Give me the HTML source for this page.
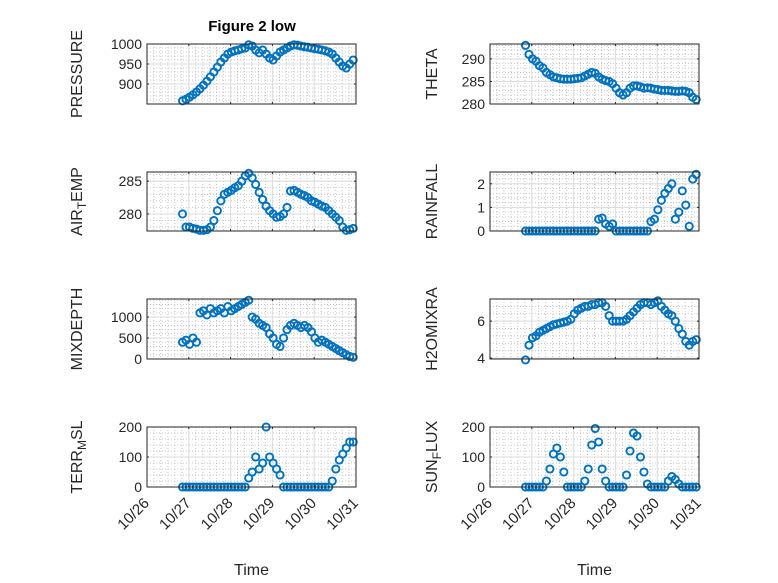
<!DOCTYPE html>
<html><head><meta charset="utf-8"><style>
body{margin:0;background:#fff;}
svg{display:block;font-family:"Liberation Sans",sans-serif;}
</style></head><body>
<svg id="fig" width="778" height="583" viewBox="0 0 778 583" xmlns="http://www.w3.org/2000/svg">
<rect width="778" height="583" fill="#fff"/>
<text x="252" y="31" text-anchor="middle" font-size="15" font-weight="bold">Figure 2 low</text>
</svg>
<script>
const times = [];
for (let k = 0; k < 50; k++) times.push(0.85 + k / 12);
const dayTicks = ["10/26","10/27","10/28","10/29","10/30","10/31"];
const pressure = [858,862,867,873,880,888,897,907,918,930,942,955,965,975,980,983,985,988,990,998,995,985,978,985,975,965,960,970,980,985,990,995,998,997,995,993,992,990,988,987,985,983,980,975,965,955,945,940,950,960];
const theta = [293,291,290,289.5,288.5,288,287,286.5,286,285.8,285.6,285.5,285.5,285.5,285.6,285.7,285.8,286.2,286.6,287,286.8,286,285.5,285.2,285,284.5,283.5,282.5,282,282.5,283.5,284,284,283.8,283.5,283.6,283.5,283.3,283.2,283,283,283,282.9,282.8,282.8,282.9,282.8,282.5,281.5,281];
const airTemp = [280,278,278,277.8,277.7,277.5,277.5,277.6,278,279,280.5,282,283,283.3,283.6,284,284.3,285,285.8,286.2,285.5,284.5,283.3,282.2,281.2,280.5,280,279.5,279.6,280,281,283.5,283.6,283.3,283,282.8,282.5,282,281.8,281.5,281.2,281,280.5,280,279.5,279,278,277.5,277.6,277.8];
const rainfall = [0,0,0,0,0,0,0,0,0,0,0,0,0,0,0,0,0,0,0,0,0,0.5,0.55,0.3,0.2,0.3,0,0,0,0,0,0,0,0,0,0,0.4,0.5,0.9,1.3,1.6,1.8,2.0,0.5,0.8,1.7,1.1,0.2,2.2,2.4];
const mixDepth = [400,450,350,500,400,1100,1150,1050,1200,1100,1150,1200,1100,1250,1150,1200,1250,1300,1350,1400,1000,950,850,800,750,600,500,350,300,500,700,800,850,800,750,800,750,650,500,400,450,400,350,300,250,200,150,100,60,40];
const h2o = [3.9,4.7,5.1,5.2,5.4,5.5,5.6,5.7,5.8,5.85,5.9,5.95,6.0,6.1,6.4,6.6,6.7,6.8,6.8,6.9,6.9,7.0,7.0,6.8,6.3,6.0,6.0,6.0,6.0,6.1,6.3,6.5,6.7,6.9,7.0,7.0,6.9,7.0,7.1,6.8,6.6,6.4,6.3,6.0,5.6,5.3,4.9,4.7,4.9,5.0];
const terrMsl = [0,0,0,0,0,0,0,0,0,0,0,0,0,0,0,0,0,0,0,30,50,100,60,80,200,100,80,60,40,0,0,0,0,0,0,0,0,0,0,0,0,0,0,20,60,90,110,130,150,150];
const sunFlux = [0,0,0,0,0,0,20,60,110,130,100,50,0,0,0,0,0,20,60,140,195,150,60,20,0,0,0,0,0,40,120,180,170,100,50,10,0,0,0,0,0,20,35,25,10,0,0,0,0,0];
const pressureTicks = [900,950,1000];
const thetaTicks = [280,285,290];
const airTicks = [280,285];
const rainTicks = [0,1,2];
const mixTicks = [0,500,1000];
const h2oTicks = [4,6];
const terrTicks = [0,100,200];
const sunTicks = [0,100,200];

const NS = "http://www.w3.org/2000/svg";
const svg = document.getElementById("fig");
function mk(tag, attrs, parent) {
  const e = document.createElementNS(NS, tag);
  for (const k in attrs) e.setAttribute(k, attrs[k]);
  (parent || svg).appendChild(e);
  return e;
}
const cols = [[147,356],[490,699]];
const rows = [[44,104],[172,231],[299,359],[427,487]];
const panels = [
  {id:"pressure", label:["PRESSURE"], data:pressure, ticks:pressureTicks, ymin:850, ymax:1000, c:0, r:0},
  {id:"theta", label:["THETA"], data:theta, ticks:thetaTicks, ymin:280, ymax:293.3, c:1, r:0},
  {id:"air-temp", label:["AIR","T","EMP"], data:airTemp, ticks:airTicks, ymin:277.4, ymax:286.4, c:0, r:1},
  {id:"rainfall", label:["RAINFALL"], data:rainfall, ticks:rainTicks, ymin:0, ymax:2.5, c:1, r:1},
  {id:"mixdepth", label:["MIXDEPTH"], data:mixDepth, ticks:mixTicks, ymin:0, ymax:1430, c:0, r:2},
  {id:"h2omixra", label:["H2OMIXRA"], data:h2o, ticks:h2oTicks, ymin:3.95, ymax:7.2, c:1, r:2},
  {id:"terr-msl", label:["TERR","M","SL"], data:terrMsl, ticks:terrTicks, ymin:0, ymax:200, c:0, r:3},
  {id:"sun-flux", label:["SUN","F","LUX"], data:sunFlux, ticks:sunTicks, ymin:0, ymax:200, c:1, r:3}
];
panels.forEach(p => {
  const [x0,x1] = cols[p.c], [y0,y1] = rows[p.r];
  const xs = t => x0 + (t / 5) * (x1 - x0);
  const ys = v => y1 - (v - p.ymin) / (p.ymax - p.ymin) * (y1 - y0);
  const g = mk("g", {});
  
  
  for (let i = 0; i <= 30; i++) {
    if (i % 6 === 0) continue;
    const x = xs(i / 6);
    mk("line", {x1:x, x2:x, y1:y0, y2:y1, stroke:"#b8b8b8", "stroke-width":0.8, "stroke-dasharray":"1 2"}, g);
  }
  const step = p.ticks[1] - p.ticks[0];
  for (let v = p.ticks[0] - step * 2; v <= p.ymax; v += step / 5) {
    if (v < p.ymin) continue;
    const y = ys(v);
    mk("line", {x1:x0, x2:x1, y1:y, y2:y, stroke:"#b8b8b8", "stroke-width":0.8, "stroke-dasharray":"1 2"}, g);
  }
  for (let d = 1; d < 5; d++) mk("line", {x1:xs(d), x2:xs(d), y1:y0, y2:y1, stroke:"#dcdcdc", "stroke-width":1}, g);
  p.ticks.forEach(v => { const y = ys(v); mk("line", {x1:x0, x2:x1, y1:y, y2:y, stroke:"#dcdcdc", "stroke-width":1}, g); });
  p.data.forEach((v, i) => {
    const c = mk("circle", {cx:xs(times[i]), cy:ys(v), r:3.6, fill:"none", stroke:"#0072bd", "stroke-width":1.9}, g);
    
    
  });
  mk("rect", {x:x0, y:y0, width:x1-x0, height:y1-y0, fill:"none", stroke:"#262626", "stroke-width":1}, g);
  for (let d = 0; d <= 5; d++) {
    mk("line", {x1:xs(d), x2:xs(d), y1:y1, y2:y1-2, stroke:"#262626"}, g);
    mk("line", {x1:xs(d), x2:xs(d), y1:y0, y2:y0+2, stroke:"#262626"}, g);
  }
  p.ticks.forEach(v => {
    const y = ys(v);
    mk("line", {x1:x0, x2:x0+2, y1:y, y2:y, stroke:"#262626"}, g);
    mk("line", {x1:x1, x2:x1-2, y1:y, y2:y, stroke:"#262626"}, g);
    const t = mk("text", {x:x0-5, y:y+5, "text-anchor":"end", "font-size":14, fill:"#262626"}, g);
    t.textContent = v;
    
    
  });
  const lx = p.c === 0 ? 82 : 437;
  const ly = (y0 + y1) / 2;
  const yl = mk("text", {x:lx, y:ly, "text-anchor":"middle", "font-size":16, fill:"#262626", transform:`rotate(-90 ${lx} ${ly})`}, g);
  
  
  if (p.label.length === 1) yl.textContent = p.label[0];
  else {
    mk("tspan", {}, yl).textContent = p.label[0];
    mk("tspan", {dy:4, "font-size":12}, yl).textContent = p.label[1];
    mk("tspan", {dy:-4}, yl).textContent = p.label[2];
  }
  if (p.r === 3) {
    dayTicks.forEach((lab, d) => {
      const tx = xs(d) + 3, ty = y1 + 17;
      const t = mk("text", {x:tx, y:ty, "text-anchor":"end", "font-size":15, fill:"#262626", transform:`rotate(-45 ${tx} ${ty})`}, g);
      t.textContent = lab;
      
      
    });
    const xt = mk("text", {x:(x0+x1)/2, y:575, "text-anchor":"middle", "font-size":16, fill:"#262626"}, g);
    xt.textContent = "Time";
    
    
  }
});
</script>
</body></html>
